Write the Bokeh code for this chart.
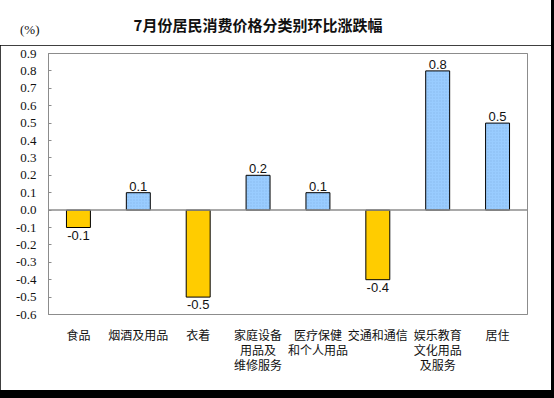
from bokeh.plotting import figure
from bokeh.models import Range1d, FixedTicker, Span, ColumnDataSource, Div
from bokeh.layouts import column
from bokeh.core.properties import value
from bokeh.embed import file_html
from bokeh.resources import INLINE

title = "7月份居民消费价格分类别环比涨跌幅"
unit = "(%)"
categories = ["食品", "烟酒及用品", "衣着", "家庭设备\n用品及\n维修服务", "医疗保健\n和个人用品",
              "交通和通信", "娱乐教育\n文化用品\n及服务", "居住"]
values = [-0.1, 0.1, -0.5, 0.2, 0.1, -0.4, 0.8, 0.5]
y_ticks = [round(-0.6 + 0.1 * i, 1) for i in range(16)]

xs = [i + 0.5 for i in range(len(categories))]
labels = ["%.1f" % v for v in values]
pos = [v >= 0 for v in values]

p = figure(frame_width=479, frame_height=261, output_backend="svg", toolbar_location=None,
           x_range=Range1d(0, len(categories)), y_range=Range1d(-0.6, 0.9),
           min_border_left=48, min_border_top=8, min_border_right=24, min_border_bottom=76,
           margin=(0, 0, 0, 0))
p.background_fill_color = "white"
p.border_fill_color = "white"
p.outline_line_color = "#8c8c8c"
p.outline_line_width = 1
p.xgrid.visible = False
p.ygrid.visible = False

src_pos = ColumnDataSource(dict(x=[x for x, s in zip(xs, pos) if s], top=[v for v, s in zip(values, pos) if s],
                                lab=[l for l, s in zip(labels, pos) if s]))
src_neg = ColumnDataSource(dict(x=[x for x, s in zip(xs, pos) if not s], top=[v for v, s in zip(values, pos) if not s],
                                lab=[l for l, s in zip(labels, pos) if not s]))

p.vbar(x="x", top="top", bottom=0, width=0.4, source=src_pos, fill_color="#99CCFF",
       line_color="black", line_width=1, hatch_pattern="dot", hatch_color="#7FAEE0",
       hatch_scale=3, hatch_alpha=0.6)
p.vbar(x="x", top="top", bottom=0, width=0.4, source=src_neg, fill_color="#FFCC00",
       line_color="black", line_width=1)

p.add_layout(Span(location=0, dimension="width", line_color="#8c8c8c", line_width=1.5))

p.text(x="x", y="top", text="lab", source=src_pos, text_align="center", text_baseline="bottom",
       y_offset=-2, text_font=value("Liberation Sans"), text_font_size="13px", text_color="#111111")
p.text(x="x", y="top", text="lab", source=src_neg, text_align="center", text_baseline="top",
       y_offset=3, text_font=value("Liberation Sans"), text_font_size="13px", text_color="#111111")

# axes
p.xaxis.ticker = FixedTicker(ticks=xs)
p.xaxis.major_label_overrides = {x: c for x, c in zip(xs, categories)}
p.xaxis.axis_line_color = None
p.xaxis.major_tick_line_color = None
p.xaxis.minor_tick_line_color = None
p.xaxis.major_label_standoff = 5
p.xaxis.major_label_text_font = "Noto Sans CJK SC"
p.xaxis.major_label_text_font_size = "12px"
p.xaxis.major_label_text_color = "#111111"
p.xaxis.major_label_text_line_height = 0.9

p.yaxis.ticker = FixedTicker(ticks=y_ticks)
p.yaxis.major_label_overrides = {t: "%.1f" % t for t in y_ticks}
p.yaxis.axis_line_color = "#8c8c8c"
p.yaxis.major_tick_line_color = "#8c8c8c"
p.yaxis.major_tick_in = 3
p.yaxis.major_tick_out = 0
p.yaxis.minor_tick_line_color = None
p.yaxis.major_label_standoff = 12
p.yaxis.major_label_text_font = "Liberation Serif"
p.yaxis.major_label_text_font_size = "13px"
p.yaxis.major_label_text_color = "#111111"

header = Div(
    text=(
        '<div style="position:relative;width:551px;height:45px;background:white;">'
        '<div style="position:absolute;left:0;top:14px;width:516px;text-align:center;'
        'font-family:\'Noto Sans CJK SC\';font-size:15px;font-weight:bold;color:#111;line-height:22px;">'
        + title + '</div>'
        '<div style="position:absolute;left:20px;top:21px;font-family:\'Liberation Serif\';'
        'font-size:13px;color:#111;line-height:18px;">' + unit + '</div>'
        '</div>'
    ),
    width=551, height=45, margin=(0, 0, 0, 0),
)
footer = Div(text='<div style="width:554px;height:8px;background:black;"></div>',
             width=554, height=8, margin=(0, 0, 0, 0))

layout = column(header, p, footer, spacing=0, width=554,
                styles={"background-color": "black"})
open("out.html", "w").write(file_html(layout, INLINE))
